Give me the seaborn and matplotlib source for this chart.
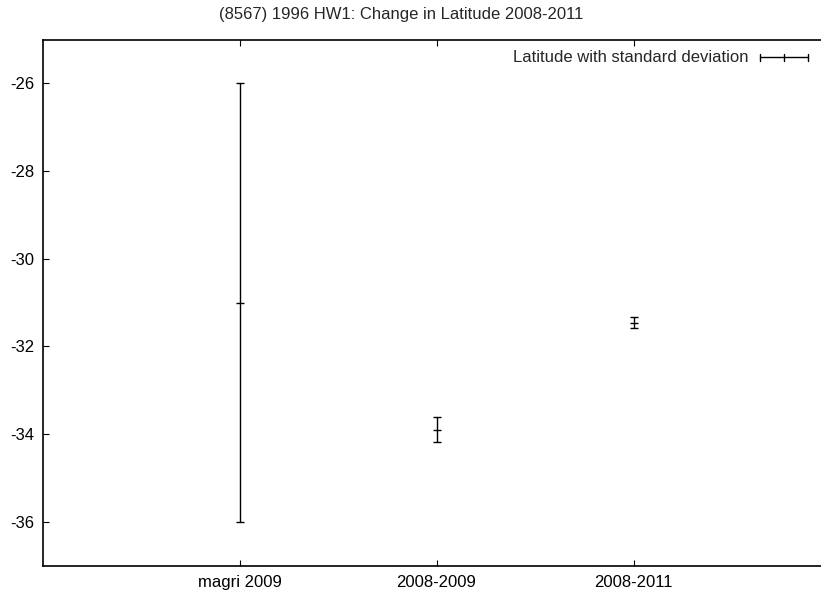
import matplotlib
matplotlib.use("Agg")
import matplotlib.pyplot as plt
import seaborn as sns
import pandas as pd
from matplotlib.lines import Line2D

categories = ["magri 2009", "2008-2009", "2008-2011"]
latitude = [-31.0, -33.9, -31.46]
std_dev = [5.0, 0.28, 0.13]
title = "(8567) 1996 HW1: Change in Latitude 2008-2011"
legend_label = "Latitude with standard deviation"
yticks = [-36, -34, -32, -30, -28, -26]

sns.set_style("ticks")
plt.rcParams["font.family"] = ["Liberation Sans", "DejaVu Sans"]

W, H = 821, 597
fig = plt.figure(figsize=(W / 100, H / 100), dpi=100)
left, right, top, bottom = 42.5, 830.5, 39.5, 565.5
ax = fig.add_axes([left / W, 1 - bottom / H, (right - left) / W, (bottom - top) / H])

pos = list(range(1, len(categories) + 1))
df = pd.DataFrame({"pos": pos, "lat": latitude, "sd": std_dev})

ax.errorbar(df["pos"], df["lat"], yerr=df["sd"], fmt="none", ecolor="black",
            elinewidth=1.0, capsize=3.0, capthick=1.0)
sns.scatterplot(data=df, x="pos", y="lat", marker="_", s=40, color="black",
                linewidth=1.0, ax=ax, legend=False)

ax.set_xlim(0, 4)
ax.set_ylim(-37, -25)
ax.set_xticks(pos)
ax.set_xticklabels(categories)
ax.set_yticks(yticks)
ax.set_yticklabels([str(v) for v in yticks])
ax.set_xlabel("")
ax.set_ylabel("")
for s in ax.spines.values():
    s.set_linewidth(1.2)
    s.set_color("black")
ax.tick_params(axis="both", direction="in", length=4, width=0.8, labelsize=12,
               colors="black")
ax.tick_params(axis="x", top=True, pad=7)
ax.tick_params(axis="y", pad=6)

fig.text(401 / W, 1 - 14 / H, title, ha="center", va="center", fontsize=12)

# legend
ly = 1 - 57 / H
fig.text(748 / W, ly, legend_label, ha="right", va="center", fontsize=12)
x0, x1, xm = 760 / W, 808 / W, 784 / W
ch = 3.5 / H
for seg in [([x0, x1], [ly, ly]), ([x0, x0], [ly - ch, ly + ch]),
            ([x1, x1], [ly - ch, ly + ch]), ([xm, xm], [ly - ch, ly + ch])]:
    fig.add_artist(Line2D(seg[0], seg[1], color="black", linewidth=1.0,
                          transform=fig.transFigure))

fig.savefig("out.png", dpi=100)
